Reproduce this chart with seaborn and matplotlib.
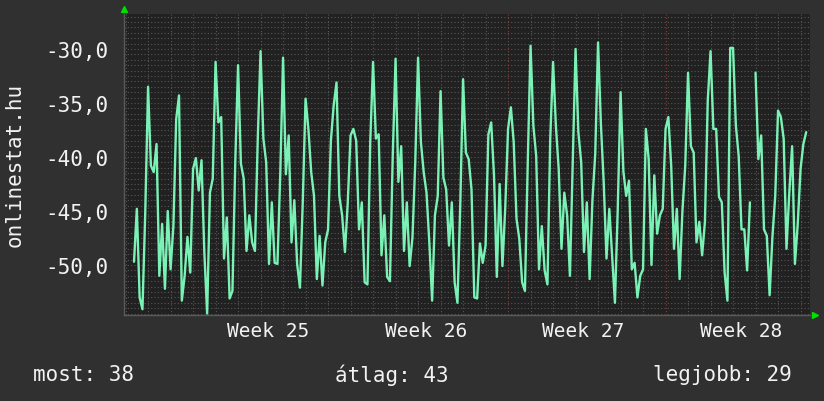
import numpy as np
import pandas as pd
import matplotlib.pyplot as plt
import seaborn as sns

# jelerosseg, 3 orankent; az elso minta 63 oraval a 25. het kezdete elott
signal = [
    -49.7, -44.8, -53.0, -54.1, -45.1, -33.5, -40.8, -41.4, -38.8, -51.0,
    -46.2, -52.2, -45.0, -50.4, -46.4, -36.5, -34.3, -53.3, -51.0, -47.4,
    -50.7,
    -41.1, -40.1, -43.1, -40.3, -48.8, -54.5, -43.3, -42.0, -31.2, -36.8,
    -36.3, -49.4, -45.6, -53.1, -52.4, -40.5, -31.5, -40.6, -42.0, -48.7,
    -45.4, -47.9, -48.7, -38.3, -30.2, -38.3, -40.5, -49.9, -44.2, -49.8,
    -49.9, -41.6, -30.8, -41.6, -38.0, -47.9, -44.0, -49.9, -52.1, -44.2,
    -34.6, -37.4, -41.4, -43.6, -51.3, -47.3, -51.9, -47.9, -46.7, -38.5,
    -35.2, -33.1, -43.6, -45.4, -48.8, -44.2, -38.0, -37.4, -38.5, -46.7,
    -44.2, -51.6, -51.8, -38.6, -31.2, -38.3, -37.9, -49.1, -45.4, -51.1,
    -51.5, -39.9, -30.9, -42.3, -39.0, -48.7, -44.2, -50.1, -47.5, -40.5,
    -30.8, -38.6, -41.4, -43.3, -47.9, -53.3, -45.4, -43.6, -33.9, -41.9,
    -43.0, -48.2, -44.2, -51.6, -53.5, -44.5, -32.8, -39.6, -40.2, -43.0,
    -53.0, -53.1, -48.0, -49.8, -48.2, -37.9, -36.8, -41.7, -51.1, -42.5,
    -50.1, -44.7, -37.4, -35.4, -38.6, -45.7, -47.6, -51.6, -52.4, -40.5,
    -29.7, -37.1, -39.9, -50.4, -46.4, -50.5, -51.8, -38.3, -31.2, -37.1,
    -41.1, -48.5, -43.3, -45.4, -51.0, -40.5, -30.0, -37.7, -40.5, -48.8,
    -44.2, -51.3, -44.0, -39.7, -29.4, -36.9, -42.3, -49.4, -44.8, -49.1,
    -53.5, -44.8, -34.0, -41.3, -43.6, -42.2, -50.4, -49.8, -53.0, -51.0,
    -50.4, -37.4, -40.2, -50.0, -41.7, -47.1, -45.4, -44.8, -37.4, -36.3,
    -40.8, -48.5, -44.8, -51.3, -45.0, -40.8, -32.2, -39.0, -39.6, -47.9,
    -46.0, -49.1, -46.0, -34.8, -30.2, -37.4, -37.4, -43.7, -44.2, -50.7,
    -53.3, -29.9, -29.9, -37.1, -39.9, -46.7, -46.7, -50.5, -44.2, np.nan,
    -32.2, -40.2, -38.0, -46.7, -47.3, -52.8, -47.4, -43.6, -35.7, -36.3,
    -38.3, -48.5, -43.3, -39.0, -49.9, -46.2, -41.1, -38.8, -37.7,
]
step_hours = 3
start_hours = -63

week_starts = [0, 7, 14, 21]
week_labels = ["Week 25", "Week 26", "Week 27", "Week 28"]
y_ticks = [-50, -45, -40, -35, -30]

most_val = 38
atlag_val = 43
legjobb_val = 29

bg = "#303030"
plot_bg = "#212121"
line_col = "#7af2b6"
txt = "#f2f2f2"

sns.set_theme(style="dark")
plt.rcParams["font.family"] = ["DejaVu Sans Mono"]

df = pd.DataFrame({
    "nap": (start_hours + step_hours * np.arange(len(signal))) / 24,
    "jel": signal,
})
df["szakasz"] = df["jel"].isna().cumsum()
df = df.dropna()

fig = plt.figure(figsize=(8.24, 4.02), dpi=100, facecolor=bg)
ax = fig.add_axes([124 / 824, 1 - 316 / 402, 686 / 824, 301 / 402])
ax.set_facecolor(plot_bg)

# racsvonalak
ax.set_xlim(-3.07, 27.42)
ax.set_ylim(-54.63, -26.76)
ax.set_xticks(week_starts)
ax.set_xticks([d for d in range(-3, 28) if d not in week_starts], minor=True)
ax.set_yticks(y_ticks)
ax.set_yticks([v for v in np.arange(-54.5, -26.5, 0.5) if v % 5 != 0], minor=True)
ax.grid(which="minor", color="#575757", lw=0.8, ls=(0, (1, 2)))
ax.grid(which="major", color="#8a3a3a", lw=0.8, ls=(0, (1, 2)))
ax.set_axisbelow(True)

sns.lineplot(data=df, x="nap", y="jel", units="szakasz", estimator=None,
             color=line_col, lw=1.7, ax=ax, legend=False)

ax.set_xlabel("")
ax.set_ylabel("")
ax.set_xticklabels([])
ax.set_yticklabels([f"{v:.1f}".replace(".", ",") for v in y_ticks])
ax.tick_params(axis="y", length=0, pad=11.5, labelsize=15, labelcolor=txt)
ax.tick_params(axis="x", length=0)
ax.tick_params(which="minor", length=0)

for w, lab in zip(week_starts, week_labels):
    ax.text(w + 3.35, -0.05, lab, transform=ax.get_xaxis_transform(),
            ha="center", va="center", fontsize=14, color=txt)

for s in ["top", "right"]:
    ax.spines[s].set_visible(False)
for s in ["left", "bottom"]:
    ax.spines[s].set_color("#5a5a5a")
    ax.spines[s].set_linewidth(1)

ax.plot([0], [1.015], marker="^", ms=4, color="#00e000", transform=ax.transAxes, clip_on=False)
ax.plot([1.008], [0], marker=">", ms=4, color="#00e000", transform=ax.transAxes, clip_on=False)

fig.text(0.018, 0.59, "onlinestat.hu", rotation=90, ha="center", va="center",
         fontsize=15, color=txt)
fig.text(33 / 824, 0.067, f"most: {most_val}", ha="left", va="center", fontsize=15, color=txt)
fig.text(392 / 824, 0.067, f"átlag: {atlag_val}", ha="center", va="center", fontsize=15, color=txt)
fig.text(792 / 824, 0.067, f"legjobb: {legjobb_val}", ha="right", va="center", fontsize=15, color=txt)

fig.savefig("out.png", dpi=100, facecolor=fig.get_facecolor())
